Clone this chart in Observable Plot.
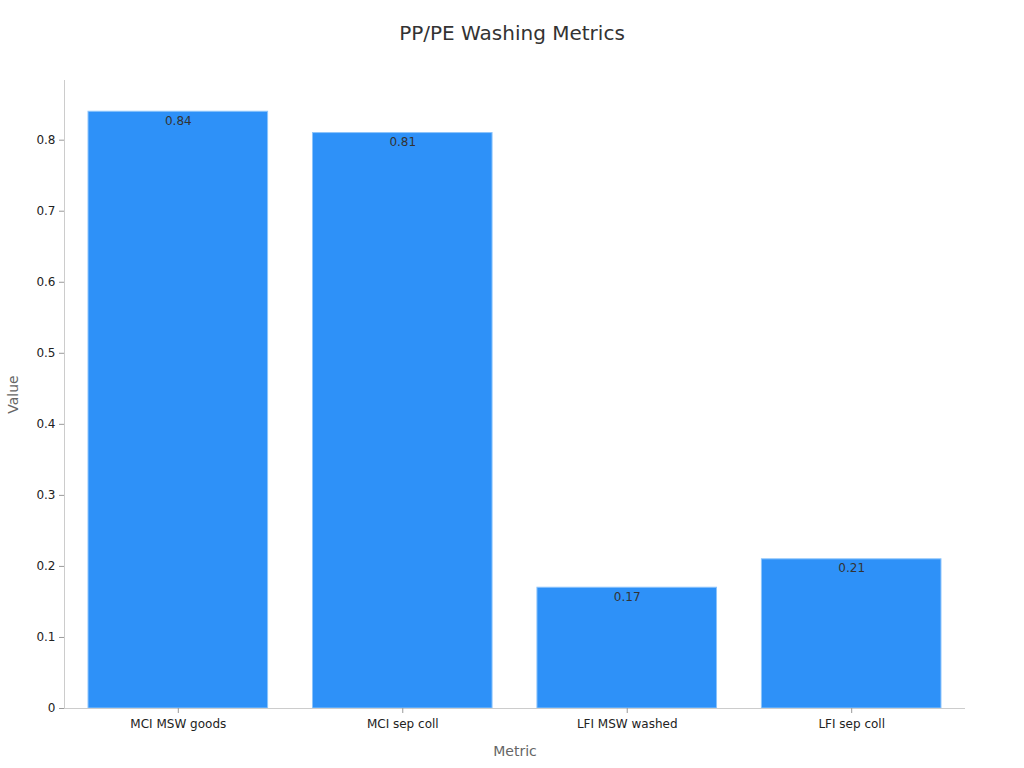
<!DOCTYPE html>
<html>
<head>
<meta charset="utf-8">
<script src="https://cdn.jsdelivr.net/npm/d3@7"></script>
<script src="https://cdn.jsdelivr.net/npm/@observablehq/plot@0.6"></script>
<style>
  html, body { margin: 0; padding: 0; background: #fff; }
  body { width: 1024px; font-family: "DejaVu Sans", sans-serif; }
  #title { height: 66px; line-height: 66px; text-align: center; font-size: 20px; color: #333; }
</style>
</head>
<body>
<div id="title">PP/PE Washing Metrics</div>
<div id="chart"></div>
<script>
const categories = ["MCI MSW goods", "MCI sep coll", "LFI MSW washed", "LFI sep coll"];
const values = [0.84, 0.81, 0.17, 0.21];
const yTicks = [0, 0.1, 0.2, 0.3, 0.4, 0.5, 0.6, 0.7, 0.8];

const data = categories.map((c, i) => ({metric: c, value: values[i]}));

const chart = Plot.plot({
  width: 1024,
  height: 702,
  marginTop: 14,
  marginBottom: 60,
  marginLeft: 64,
  marginRight: 59,
  style: {fontFamily: "DejaVu Sans, sans-serif", fontSize: "12px", color: "#222", background: "#fff"},
  x: {domain: categories, paddingInner: 0.2, paddingOuter: 0.107, round: false, label: null},
  y: {domain: [0, 0.884], label: null},
  marks: [
    Plot.barY(data, {x: "metric", y: "value", fill: "#2e91f8", stroke: "#8cc4fb", strokeWidth: 1}),
    Plot.text(data, {x: "metric", y: "value", text: d => d.value.toFixed(2), dy: 9, fill: "#333", fontSize: 12}),
    Plot.frame({anchor: "left", stroke: "#ccc"}),
    Plot.ruleY([0], {stroke: "#ccc"}),
    Plot.axisY(yTicks, {tickFormat: d => d3.format("~g")(d), tickSize: 5, stroke: "#999", fill: "#222", fontSize: 12, label: null}),
    Plot.axisX({tickSize: 5, stroke: "#999", fill: "#222", fontSize: 12, tickPadding: 6, label: null}),
    Plot.text(["Value"], {frameAnchor: "left", textAnchor: "middle", dx: -51, rotate: -90, fill: "#666", fontSize: 14}),
    Plot.text(["Metric"], {frameAnchor: "bottom", dy: 47, fill: "#666", fontSize: 14})
  ]
});
document.getElementById("chart").appendChild(chart);
</script>
</body>
</html>
